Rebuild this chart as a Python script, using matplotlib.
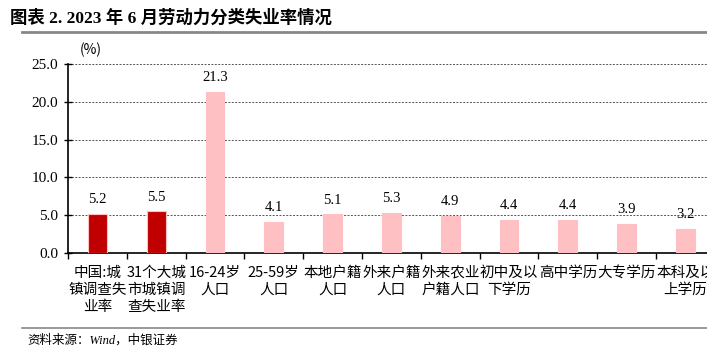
import numpy as np
import matplotlib.pyplot as plt
from matplotlib.lines import Line2D

plt.rcParams['font.family'] = ['Liberation Serif', 'Noto Sans CJK SC']

# categories and values
labels = ['中国:城\n镇调查失\n业率', '31个大城\n市城镇调\n查失业率', '16-24岁\n人口', '25-59岁\n人口',
          '本地户籍\n人口', '外来户籍\n人口', '外来农业\n户籍人口', '初中及以\n下学历',
          '高中学历', '大专学历', '本科及以\n上学历']
values = [5.2, 5.5, 21.3, 4.1, 5.1, 5.3, 4.9, 4.4, 4.4, 3.9, 3.2]
dark = ['#C00000'] * 2
light = ['#FFC0C4'] * 9
colors = dark + light

fig = plt.figure(figsize=(7.07, 3.54), dpi=100)
ax = fig.add_axes([0.0962, 0.2853, 0.915, 0.534])

x = np.arange(len(values))
ax.bar(x, values, width=0.32, color=colors, edgecolor='#FFC0C4', linewidth=0.8, zorder=3)
for xi, v in zip(x, values):
    ax.text(xi, v + 1.0, f'{v:.1f}', ha='center', va='bottom', fontsize=10.5,
            fontfamily='Liberation Serif')

ax.set_xlim(-0.5, len(values) - 0.5)
ax.set_ylim(0, 25)
ax.set_yticks(np.arange(0, 25.1, 5))
ax.set_yticklabels([f'{t:.1f}' for t in np.arange(0, 25.1, 5)], fontsize=11)
ax.yaxis.grid(True, linestyle=(0, (2, 1.5)), color='#555555', linewidth=0.7, zorder=0)

# ticks at category boundaries, labels in between
ax.set_xticks(np.arange(-0.5, len(values), 1.0))
ax.set_xticklabels([])
ax.set_xticks(x, minor=True)
ax.set_xticklabels(labels, minor=True, fontsize=10.5, fontfamily=['Noto Sans CJK SC'],
                   linespacing=1.3, va='top', ha='center')
ax.tick_params(axis='x', which='major', direction='out', length=4, width=1, color='black')
ax.tick_params(axis='x', which='minor', length=0, pad=9)
ax.tick_params(axis='y', direction='inout', length=6, width=1, pad=4)

for s in ['top', 'right']:
    ax.spines[s].set_visible(False)
ax.spines['left'].set_linewidth(1.2)
ax.spines['bottom'].set_linewidth(1.2)

fig.text(80 / 707, 1 - 50 / 354, '(%)', fontsize=10, va='center', ha='left',
         fontfamily=['Noto Sans CJK SC'])

fig.text(10 / 707, 1 - 18 / 354, '图表 2. 2023 年 6 月劳动力分类失业率情况', fontsize=12.5,
         fontweight='bold', va='center', ha='left',
         fontfamily=['Liberation Serif', 'Noto Sans CJK SC'])
fig.add_artist(Line2D([22 / 707, 1], [1 - 32 / 354] * 2, color='#888888', linewidth=2,
                      transform=fig.transFigure))
fig.add_artist(Line2D([22 / 707, 1], [1 - 328 / 354] * 2, color='#888888', linewidth=1.2,
                      transform=fig.transFigure))
fig.text(27 / 707, 1 - 340 / 354, '资料来源：Wind，中银证券', fontsize=9, style='italic',
         va='center', ha='left', fontfamily=['Liberation Serif', 'Noto Sans CJK SC'])

fig.savefig('out.png', dpi=100)
